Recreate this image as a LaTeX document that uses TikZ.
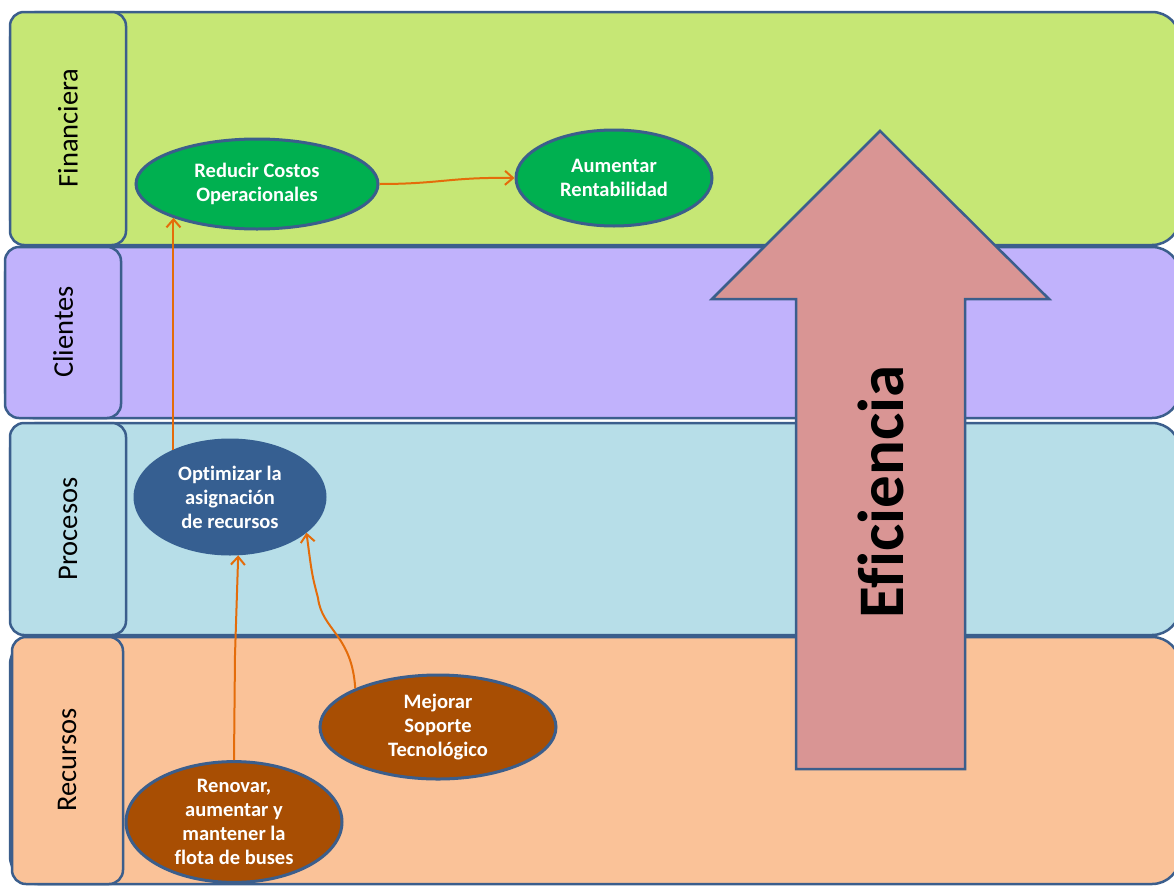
\documentclass[tikz,border=0pt]{standalone}
\usepackage{fontspec}
\setmainfont{Carlito}[Ligatures=NoCommon]
\usetikzlibrary{arrows.meta,shapes.geometric}
\definecolor{fin}{RGB}{198,231,117}
\definecolor{cli}{RGB}{193,178,252}
\definecolor{pro}{RGB}{183,222,232}
\definecolor{rec}{RGB}{250,194,152}
\definecolor{edge}{RGB}{59,94,140}
\definecolor{gr}{RGB}{0,176,80}
\definecolor{dblue}{RGB}{54,95,145}
\definecolor{brn}{RGB}{168,78,3}
\definecolor{org}{RGB}{228,108,10}
\definecolor{bigfill}{RGB}{217,149,148}
\tikzset{
  band/.style={draw=edge, line width=2.5pt, rounded corners=28pt},
  lab/.style={draw=edge, line width=2.5pt, rounded corners=14pt},
  labtext/.style={rotate=90, font=\fontsize{28.5}{31}\selectfont, text=black},
  goal/.style={ellipse, draw=edge, line width=3pt, inner sep=0pt, text=white, align=center,
     font=\bfseries\fontsize{20.5}{24}\selectfont},
  link/.style={draw=org, line width=2pt, -{Straight Barb[length=8pt,width=14pt,line width=2pt]}},
}
\begin{document}
\begin{tikzpicture}[x=1pt,y=-1pt]
\useasboundingbox (0,0) rectangle (1174,886);
\clip (0,0) rectangle (1174,886);
% bands
\draw[band, fill=fin] (10,12) rectangle (1180,245);
\draw[lab, fill=fin] (10,12) rectangle (126,245);
\node[labtext] (lfin) at (68,128) {Financiera};
\draw[band, fill=cli] (5,247) rectangle (1180,418);
\draw[lab, fill=cli] (5,247) rectangle (121,418);
\node[labtext] (lcli) at (63,332) {Clientes};
\draw[band, fill=pro] (10,423) rectangle (1180,635);
\draw[lab, fill=pro] (10,423) rectangle (126,635);
\node[labtext] (lpro) at (68,529) {Procesos};
\draw[band, fill=rec] (10,637) rectangle (1180,884);
\draw[lab, fill=rec] (12,637) rectangle (123,884);
\node[labtext] (lrec) at (67,760) {Recursos};
% big arrow
\coordinate (t) at (880,131);
\coordinate (wl) at (712,299);
\coordinate (wr) at (1049,299);
\coordinate (sl) at (796,299);
\coordinate (sr) at (965,299);
\coordinate (bl) at (796,769);
\coordinate (br) at (965,769);
\draw[draw=edge, line width=2.5pt, fill=bigfill, line join=miter]
  (t) -- (wr) -- (sr) -- (br) -- (bl) -- (sl) -- (wl) -- cycle;
\node[rotate=90, font=\bfseries\fontsize{65}{70}\selectfont, text=black] (efi) at (881,492) {Eficiencia};
% goals
\node[goal, fill=gr, minimum width=242pt, minimum height=90pt] (red) at (257,184) {Reducir Costos\\Operacionales};
\node[goal, fill=gr, minimum width=196pt, minimum height=96pt] (aum) at (614,178) {Aumentar\\Rentabilidad};
\node[goal, fill=dblue, draw=dblue, minimum width=190pt, minimum height=114pt] (opt) at (230,497) {Optimizar la\\asignación\\de recursos};
\node[goal, fill=brn, minimum width=236pt, minimum height=104pt] (mej) at (438,727) {Mejorar\\Soporte\\Tecnológico};
\node[goal, fill=brn, minimum width=216pt, minimum height=120pt] (ren) at (234,822) {Renovar,\\aumentar y\\mantener la\\flota de buses};
% links
\draw[link] (red.east) .. controls (440,184) and (450,177) .. (aum.west);
\draw[link] (opt.140) -- (opt.140 |- red.202);
\coordinate (k1) at (235,655);
\draw[link] (ren.north) -- (k1) -- (opt.-82);
\coordinate (k2) at (318,598);
\draw[link] (mej.155) .. controls (352,635) and (322,630) .. (k2) .. controls (312,575) .. (opt.-25);
\end{tikzpicture}
\end{document}
